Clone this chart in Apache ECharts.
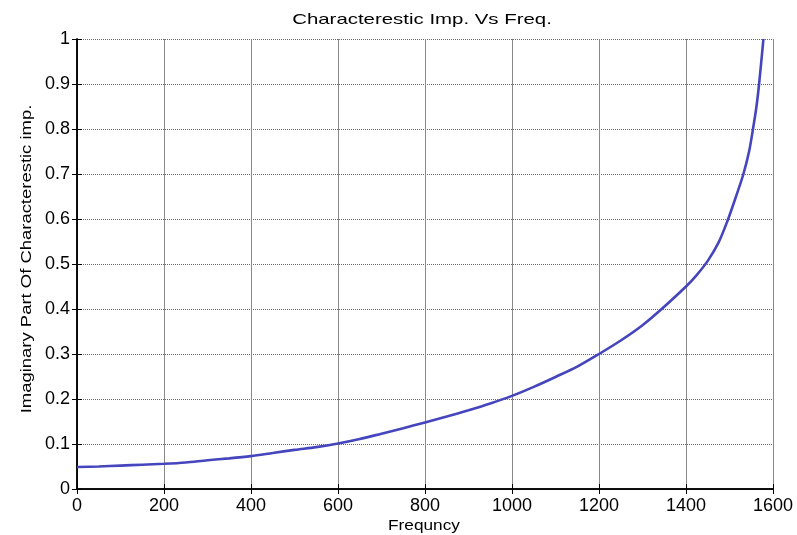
<!DOCTYPE html>
<html>
<head>
<meta charset="utf-8">
<script src="https://cdn.jsdelivr.net/npm/echarts@6/dist/echarts.min.js"></script>
<style>
  html, body { margin: 0; padding: 0; background: #fff; }
  #chart { width: 797px; height: 535px; }
</style>
</head>
<body>
<div id="chart"></div>
<script>
// Frequency samples and the imaginary part of the characteristic impedance
const freq = [0, 50, 100, 150, 200, 250, 300, 350, 400, 450, 500, 550, 600, 650, 700, 750, 800, 850, 900, 950, 1000, 1050, 1100, 1150, 1200, 1250, 1300, 1344, 1400, 1425, 1450, 1475, 1495, 1515, 1532, 1545, 1554, 1562, 1568, 1578];
const imagZ = [0.049, 0.050, 0.052, 0.054, 0.056, 0.059, 0.064, 0.068, 0.073, 0.080, 0.087, 0.093, 0.101, 0.111, 0.123, 0.135, 0.148, 0.161, 0.175, 0.190, 0.207, 0.227, 0.249, 0.272, 0.300, 0.330, 0.364, 0.400, 0.450, 0.476, 0.507, 0.548, 0.595, 0.650, 0.700, 0.750, 0.800, 0.850, 0.900, 1.000];

const xTicks = [0, 200, 400, 600, 800, 1000, 1200, 1400, 1600];
const yTicks = [0, 0.1, 0.2, 0.3, 0.4, 0.5, 0.6, 0.7, 0.8, 0.9, 1];

const titleText = 'Characterestic Imp. Vs Freq.';
const xName = 'Frequncy';
const yName = 'Imaginary Part Of Characterestic imp.';

const FONT = '"Liberation Sans", Arial, sans-serif';
const points = freq.map((f, i) => [f, imagZ[i]]);

const chart = echarts.init(document.getElementById('chart'), null, { renderer: 'canvas' });

const boxLine = { show: true, lineStyle: { color: '#000', width: 1.5 } };
const inTick = { show: true, inside: true, length: 5, lineStyle: { color: '#000', width: 1 } };

// wide-set labels drawn as text elements so they can be stretched horizontally
function label(text, x, y, sx, rot) {
  return {
    type: 'text', x: x, y: y, scaleX: sx, scaleY: 1, rotation: rot || 0,
    style: { text: text, font: '15px ' + FONT, fill: '#000', textAlign: 'center', textVerticalAlign: 'middle' }
  };
}

chart.setOption({
  animation: false,
  backgroundColor: '#fff',
  grid: { left: 77, right: 24, top: 39, bottom: 46, containLabel: false },
  xAxis: [{
    type: 'value', min: xTicks[0], max: xTicks[xTicks.length - 1], interval: 200,
    axisLine: boxLine, axisTick: inTick,
    axisLabel: { fontFamily: FONT, fontSize: 18, color: '#000', margin: 8, formatter: v => String(v) },
    splitLine: { show: true, lineStyle: { color: '#8a8a8a', width: 1, type: 'solid' } }
  }, {
    type: 'value', position: 'top', min: xTicks[0], max: xTicks[xTicks.length - 1], interval: 200,
    axisLine: boxLine, axisTick: inTick, axisLabel: { show: false }, splitLine: { show: false }
  }],
  yAxis: [{
    type: 'value', min: yTicks[0], max: yTicks[yTicks.length - 1], interval: 0.1,
    axisLine: boxLine, axisTick: inTick,
    axisLabel: { fontFamily: FONT, fontSize: 18, color: '#000', margin: 7,
      formatter: v => String(Math.round(v * 10) / 10) },
    splitLine: { show: true, lineStyle: { color: '#6a6a6a', width: 1, type: [1, 1] } }
  }, {
    type: 'value', position: 'right', min: yTicks[0], max: yTicks[yTicks.length - 1], interval: 0.1,
    axisLine: boxLine, axisTick: inTick, axisLabel: { show: false }, splitLine: { show: false }
  }],
  graphic: [
    label(titleText, 422, 20, 1.36),
    label(xName, 424, 526, 1.15),
    label(yName, 27, 259, 1.23, Math.PI / 2)
  ],
  series: [{
    type: 'line', data: points, smooth: 0.3, showSymbol: false, clip: true,
    lineStyle: { color: '#4545bd', width: 2.6 }
  }]
});
</script>
</body>
</html>
